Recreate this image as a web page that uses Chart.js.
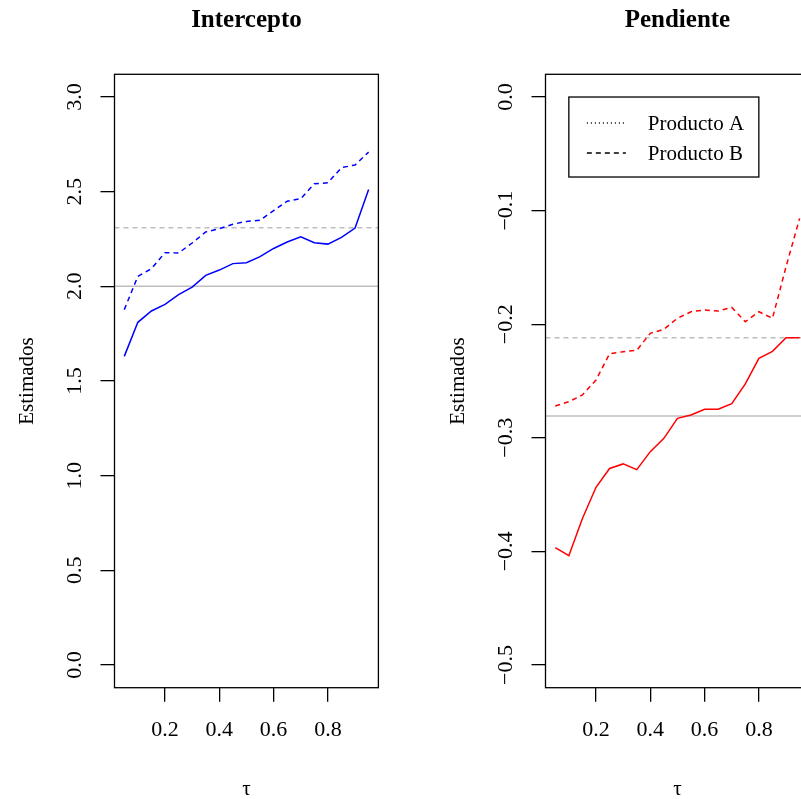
<!DOCTYPE html>
<html>
<head>
<meta charset="utf-8">
<script src="https://cdn.jsdelivr.net/npm/chart.js@4.4.1/dist/chart.umd.min.js"></script>
<style>
html, body { margin: 0; padding: 0; background: #fff; overflow: hidden; width: 801px; height: 799px; }
#wrap { position: relative; width: 801px; height: 799px; overflow: hidden; }
canvas { position: absolute; top: 0; }
</style>
</head>
<body>
<div id="wrap">
  <canvas id="left" width="400" height="799" style="left:0px"></canvas>
  <canvas id="right" width="400" height="799" style="left:431px"></canvas>
</div>
<script>
// quantiles
const taus = [0.05, 0.10, 0.15, 0.20, 0.25, 0.30, 0.35, 0.40, 0.45, 0.50,
              0.55, 0.60, 0.65, 0.70, 0.75, 0.80, 0.85, 0.90, 0.95];

// Intercepto
const interceptSolid = [1.63, 1.81, 1.87, 1.905, 1.956, 1.996, 2.058, 2.086, 2.12, 2.125,
                        2.157, 2.20, 2.234, 2.262, 2.23, 2.223, 2.259, 2.308, 2.511];
const interceptDashed = [1.877, 2.053, 2.093, 2.178, 2.176, 2.229, 2.287, 2.305, 2.328, 2.343,
                         2.349, 2.40, 2.45, 2.463, 2.542, 2.547, 2.627, 2.641, 2.709];
const interceptRefSolid = 2.0;
const interceptRefDashed = 2.31;

// Pendiente
const slopeSolid = [-0.3967, -0.4038, -0.371, -0.3436, -0.327, -0.323, -0.328, -0.3122, -0.3005, -0.2829,
                    -0.2799, -0.2749, -0.2749, -0.270, -0.2526, -0.230, -0.2239, -0.2119, -0.2119];
const slopeDashed = [-0.272, -0.2682, -0.2623, -0.2491, -0.226, -0.2242, -0.223, -0.208, -0.2045, -0.1948,
                     -0.189, -0.1875, -0.1884, -0.1852, -0.1978, -0.189, -0.1948, -0.1494, -0.1068];
const slopeRefSolid = -0.2808;
const slopeRefDashed = -0.2119;

const xTicks = [0.2, 0.4, 0.6, 0.8];
const interceptTicks = [0.0, 0.5, 1.0, 1.5, 2.0, 2.5, 3.0];
const slopeTicks = [-0.5, -0.4, -0.3, -0.2, -0.1, 0.0];
const legendLabels = ['Producto A', 'Producto B'];

const FONT = '"Liberation Serif", "Times New Roman", serif';

function pts(ys) {
  return taus.map((t, i) => ({ x: t, y: ys[i] }));
}

function fmt(v) {
  return (v < 0 ? '\u2212' : '') + Math.abs(v).toFixed(1);
}

const decor = {
  id: 'decor',
  beforeDatasetsDraw(chart, args, o) {
    const ctx = chart.ctx, a = chart.chartArea, y = chart.scales.y;
    ctx.save();
    ctx.beginPath();
    ctx.rect(a.left, a.top, a.right - a.left, a.bottom - a.top);
    ctx.clip();
    ctx.strokeStyle = '#bebebe';
    ctx.lineWidth = 1.5;
    [[o.refSolid, []], [o.refDashed, [5, 4]]].forEach(([v, dash]) => {
      const py = y.getPixelForValue(v);
      ctx.setLineDash(dash);
      ctx.beginPath();
      ctx.moveTo(a.left, py);
      ctx.lineTo(a.right, py);
      ctx.stroke();
    });
    ctx.restore();
  },
  afterDraw(chart, args, o) {
    const ctx = chart.ctx, a = chart.chartArea, y = chart.scales.y, x = chart.scales.x;
    ctx.save();
    ctx.fillStyle = '#000';
    ctx.strokeStyle = '#000';
    ctx.lineWidth = 1.3;
    ctx.strokeRect(a.left, a.top, a.right - a.left, a.bottom - a.top);

    const cx = (a.left + a.right) / 2;
    ctx.font = 'bold 25px ' + FONT;
    ctx.textAlign = 'center';
    ctx.textBaseline = 'middle';
    ctx.fillText(o.title, cx, 21);

    ctx.font = '21px ' + FONT;
    ctx.fillText('\u03c4', cx, 789);

    ctx.save();
    ctx.translate(a.left - 87, (a.top + a.bottom) / 2);
    ctx.rotate(-Math.PI / 2);
    ctx.fillText('Estimados', 0, 0);
    ctx.restore();

    ctx.font = '22px ' + FONT;
    o.yTicks.forEach(v => {
      ctx.save();
      ctx.translate(a.left - 39, y.getPixelForValue(v));
      ctx.rotate(-Math.PI / 2);
      ctx.fillText(fmt(v), 0, 0);
      ctx.restore();
    });

    if (o.legend) {
      ctx.font = '21px ' + FONT;
      const lx = x.getPixelForValue(0.1), ly = y.getPixelForValue(0);
      ctx.fillStyle = '#fff';
      ctx.fillRect(lx, ly, 190, 80);
      ctx.lineWidth = 1.3;
      ctx.strokeRect(lx, ly, 190, 80);
      ctx.fillStyle = '#000';
      ctx.textAlign = 'left';
      [[1, 3], [5, 4]].forEach((dash, i) => {
        const ry = ly + 26 + i * 30;
        ctx.setLineDash(dash);
        ctx.beginPath();
        ctx.moveTo(lx + 18, ry);
        ctx.lineTo(lx + 57, ry);
        ctx.stroke();
        ctx.setLineDash([]);
        ctx.fillText(legendLabels[i], lx + 79, ry + 1);
      });
    }
    ctx.restore();
  }
};

function makeChart(id, solid, dashed, color, yMin, yMax, opts) {
  new Chart(document.getElementById(id), {
    type: 'line',
    data: {
      datasets: [
        { data: pts(solid), borderColor: color, borderWidth: 1.5, pointRadius: 0, tension: 0, fill: false },
        { data: pts(dashed), borderColor: color, borderWidth: 1.5, borderDash: [5, 4], pointRadius: 0, tension: 0, fill: false }
      ]
    },
    options: {
      responsive: false,
      animation: false,
      layout: { padding: { top: 74.3, right: 21.6, bottom: 0, left: 0 } },
      plugins: { legend: { display: false }, tooltip: { enabled: false }, decor: opts },
      scales: {
        x: {
          type: 'linear',
          min: 0.014, max: 0.986,
          border: { display: false },
          grid: { drawOnChartArea: false, drawTicks: true, tickLength: 14, color: '#000', lineWidth: 1.3 },
          afterBuildTicks: s => { s.ticks = xTicks.map(v => ({ value: v })); },
          afterFit: s => { s.height = 111.3; },
          ticks: {
            color: '#000', padding: 15, maxRotation: 0,
            font: { family: FONT, size: 22 },
            callback: v => fmt(v)
          }
        },
        y: {
          type: 'linear',
          min: yMin, max: yMax,
          border: { display: false },
          grid: { drawOnChartArea: false, drawTicks: true, tickLength: 14, color: '#000', lineWidth: 1.3 },
          afterBuildTicks: s => { s.ticks = opts.yTicks.map(v => ({ value: v })); },
          afterFit: s => { s.width = 114.5; },
          ticks: { display: false }
        }
      }
    },
    plugins: [decor]
  });
}

makeChart('left', interceptSolid, interceptDashed, '#0000ff', -0.12, 3.12, {
  title: 'Intercepto', yTicks: interceptTicks,
  refSolid: interceptRefSolid, refDashed: interceptRefDashed, legend: false
});
makeChart('right', slopeSolid, slopeDashed, '#ff0000', -0.52, 0.02, {
  title: 'Pendiente', yTicks: slopeTicks,
  refSolid: slopeRefSolid, refDashed: slopeRefDashed, legend: true
});
</script>
</body>
</html>
